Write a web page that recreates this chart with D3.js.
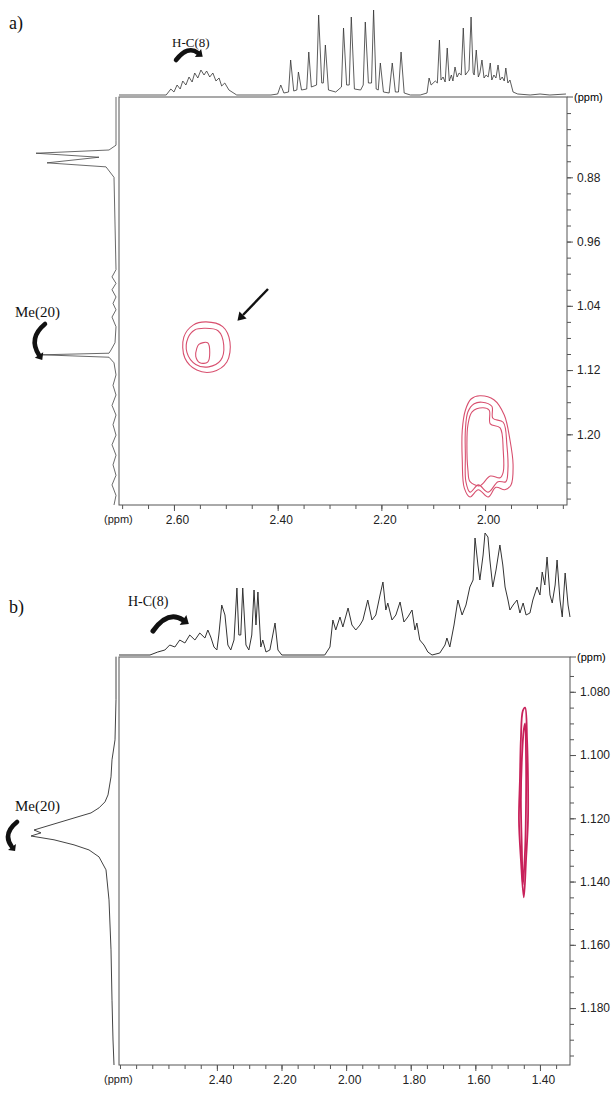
<!DOCTYPE html>
<html lang="en">
<head>
<meta charset="UTF-8">
<title>2D NMR spectra a) and b)</title>
<script src="https://d3js.org/d3.v7.min.js"></script>
<style>
  body { margin: 0; background: #fff; }
  .axis text { font-family: "Liberation Sans", Arial, sans-serif; font-size: 12px; fill: #222; }
  .axis line { stroke: #555; }
  .axis path { display: none; }
  .note { font-family: "Liberation Serif", "Times New Roman", serif; fill: #111; }
</style>
</head>
<body>
<div id="chart"></div>
<script>
// ---- panel a) : tick labels (ppm)
const aXLabels = [2.60, 2.40, 2.20, 2.00];
const aYLabels = [0.88, 0.96, 1.04, 1.12, 1.20];

// 1D projection on top of panel a) : [ppm, intensity]
const aTopSpectrum = [
  [2.706, 0], [2.615, 0], [2.606, 6], [2.600, 3], [2.594, 10], [2.588, 6], [2.583, 14], [2.577, 10],
  [2.571, 18], [2.565, 13], [2.560, 22], [2.554, 17], [2.548, 25], [2.542, 20], [2.537, 24], [2.531, 18],
  [2.525, 22], [2.519, 14], [2.513, 17], [2.508, 9], [2.502, 12], [2.494, 5], [2.488, 3], [2.479, 0],
  [2.413, 0], [2.400, 1], [2.394, 10], [2.388, 2], [2.379, 3], [2.375, 35], [2.369, 4], [2.363, 5],
  [2.360, 23], [2.354, 5], [2.344, 6], [2.340, 43], [2.335, 8], [2.325, 10], [2.321, 80], [2.315, 12],
  [2.312, 12], [2.308, 50], [2.302, 5], [2.288, 3], [2.277, 8], [2.273, 67], [2.267, 10], [2.262, 10],
  [2.258, 78], [2.252, 6], [2.240, 5], [2.235, 10], [2.231, 73], [2.225, 12], [2.219, 12], [2.215, 85],
  [2.210, 6], [2.206, 5], [2.202, 32], [2.196, 3], [2.185, 2], [2.179, 32], [2.173, 3], [2.167, 3],
  [2.162, 43], [2.156, 2], [2.144, 0],
  [2.125, 0], [2.112, 2], [2.108, 17], [2.104, 10], [2.096, 14], [2.092, 12], [2.088, 55], [2.085, 15],
  [2.081, 18], [2.077, 13], [2.073, 47], [2.069, 14], [2.065, 20], [2.062, 14], [2.058, 28], [2.054, 18],
  [2.050, 22], [2.046, 20], [2.042, 67], [2.038, 20], [2.035, 22], [2.031, 25], [2.027, 78], [2.023, 22],
  [2.021, 20], [2.017, 45], [2.013, 18], [2.010, 22], [2.006, 35], [2.002, 17], [1.998, 20], [1.994, 18],
  [1.990, 32], [1.987, 15], [1.983, 20], [1.979, 17], [1.975, 30], [1.971, 15], [1.967, 18], [1.963, 14],
  [1.960, 27], [1.956, 12], [1.952, 15], [1.946, 3], [1.937, 1], [1.913, 0], [1.894, 1], [1.875, 0],
  [1.844, 1]
];

// 1D projection on the left of panel a) : [ppm, intensity]
const aLeftSpectrum = [
  [0.780, 0], [0.834, 0], [0.840, 0], [0.846, 7], [0.850, 80], [0.855, 17], [0.862, 69], [0.867, 10],
  [0.880, 2], [0.995, 0], [1.004, 4], [1.012, 0], [1.020, 4], [1.029, 0], [1.037, 3], [1.045, 0],
  [1.054, 4], [1.066, 0], [1.086, 1], [1.095, 5], [1.099, 7], [1.101, 74], [1.104, 7], [1.111, 2],
  [1.126, 0], [1.139, 3], [1.151, 0], [1.164, 4], [1.176, 0], [1.188, 3], [1.201, 0], [1.213, 4],
  [1.226, 0], [1.238, 3], [1.251, 0], [1.263, 4], [1.276, 0], [1.288, 2]
];

// contour levels of panel a) : [ppm F2, ppm F1]
const aContours = [
  [[2.538, 1.060], [2.506, 1.066], [2.492, 1.085], [2.498, 1.110], [2.525, 1.122], [2.556, 1.120],
   [2.579, 1.105], [2.581, 1.079], [2.563, 1.064]],
  [[2.542, 1.068], [2.515, 1.071], [2.504, 1.089], [2.510, 1.108], [2.533, 1.116], [2.558, 1.113],
   [2.575, 1.098], [2.573, 1.080], [2.560, 1.070]],
  [[2.552, 1.088], [2.535, 1.086], [2.531, 1.098], [2.535, 1.110], [2.550, 1.111], [2.558, 1.103],
   [2.556, 1.093]],
  [[2.010, 1.152], [1.983, 1.157], [1.963, 1.176], [1.952, 1.207], [1.946, 1.238], [1.950, 1.263],
   [1.962, 1.269], [1.979, 1.266], [1.994, 1.278], [2.013, 1.269], [2.029, 1.278], [2.040, 1.267],
   [2.044, 1.232], [2.044, 1.195], [2.038, 1.170], [2.027, 1.156]],
  [[2.006, 1.160], [1.987, 1.165], [1.985, 1.180], [1.965, 1.185], [1.958, 1.213], [1.956, 1.245],
   [1.960, 1.259], [1.975, 1.259], [1.994, 1.272], [2.013, 1.263], [2.029, 1.272], [2.037, 1.259],
   [2.038, 1.226], [2.038, 1.195], [2.033, 1.172], [2.021, 1.162]],
  [[2.004, 1.167], [1.992, 1.170], [1.990, 1.187], [1.971, 1.192], [1.965, 1.220], [1.965, 1.247],
   [1.971, 1.254], [1.990, 1.252], [2.010, 1.264], [2.029, 1.259], [2.033, 1.245], [2.035, 1.213],
   [2.033, 1.188], [2.025, 1.172]]
];

// ---- panel b)
const bXLabels = [2.40, 2.20, 2.00, 1.80, 1.60, 1.40];
const bYLabels = [1.080, 1.100, 1.120, 1.140, 1.160, 1.180];

const bTopSpectrum = [
  [2.703, 0], [2.607, 0], [2.583, 3], [2.561, 5], [2.546, 10], [2.530, 8], [2.515, 15], [2.499, 12],
  [2.484, 20], [2.468, 15], [2.453, 22], [2.437, 17], [2.428, 25], [2.419, 18], [2.409, 8], [2.400, 5],
  [2.394, 20], [2.385, 50], [2.375, 40], [2.366, 10], [2.357, 5], [2.347, 15], [2.338, 67], [2.332, 20],
  [2.326, 20], [2.320, 67], [2.310, 10], [2.301, 5], [2.292, 20], [2.285, 65], [2.279, 30], [2.273, 63],
  [2.264, 8], [2.258, 15], [2.248, 3], [2.236, 5], [2.227, 20], [2.220, 32], [2.211, 5], [2.199, 0],
  [2.066, 0], [2.050, 8], [2.041, 35], [2.032, 25], [2.019, 38], [2.010, 28], [1.994, 47], [1.982, 30],
  [1.970, 25], [1.957, 30], [1.948, 35], [1.933, 55], [1.920, 35], [1.908, 40], [1.895, 60], [1.886, 73],
  [1.877, 45], [1.871, 52], [1.858, 35], [1.846, 40], [1.833, 53], [1.821, 33], [1.809, 38], [1.796, 45],
  [1.787, 25], [1.781, 32], [1.772, 15], [1.759, 10], [1.747, 3], [1.734, 0], [1.710, 2], [1.694, 10],
  [1.688, 17], [1.679, 8], [1.666, 30], [1.654, 55], [1.641, 40], [1.629, 50], [1.617, 68], [1.607, 75],
  [1.601, 117], [1.592, 90], [1.586, 75], [1.576, 100], [1.570, 122], [1.561, 118], [1.555, 95], [1.546, 68],
  [1.536, 85], [1.524, 110], [1.515, 90], [1.508, 68], [1.499, 55], [1.493, 45], [1.483, 50], [1.471, 55],
  [1.462, 42], [1.452, 52], [1.443, 40], [1.431, 42], [1.422, 55], [1.409, 68], [1.400, 60], [1.393, 83],
  [1.385, 70], [1.378, 98], [1.369, 60], [1.362, 52], [1.353, 70], [1.347, 95], [1.338, 55], [1.331, 38],
  [1.322, 82], [1.313, 50], [1.307, 38]
];

const bLeftSpectrum = [
  [1.0689, 0], [1.0825, 0], [1.0952, 1], [1.1015, 4], [1.1069, 5], [1.1126, 8], [1.1148, 11], [1.1167, 17],
  [1.1183, 25], [1.1199, 42], [1.1218, 62], [1.1237, 82], [1.1246, 75], [1.1256, 85], [1.1268, 62],
  [1.1284, 42], [1.1300, 27], [1.1322, 17], [1.1363, 10], [1.1458, 7], [1.1616, 5], [1.1775, 4],
  [1.1901, 3], [1.1980, 2]
];

const bContours = [
  [[1.446, 1.085], [1.440, 1.095], [1.437, 1.108], [1.437, 1.1205], [1.443, 1.133], [1.450, 1.145],
   [1.459, 1.133], [1.465, 1.1205], [1.462, 1.108], [1.459, 1.095], [1.453, 1.086]],
  [[1.446, 1.090], [1.443, 1.1015], [1.443, 1.114], [1.446, 1.130], [1.453, 1.141], [1.456, 1.130],
   [1.459, 1.114], [1.456, 1.1015], [1.450, 1.092]]
];

const panels = [
  {
    frame: { l: 119, t: 97, r: 567, b: 505 },
    xDomain: [2.706, 1.842], yDomain: [0.780, 1.288],
    xLabels: aXLabels, yLabels: aYLabels,
    xMinor: d3.range(2.70, 1.84, -0.05), yMinor: d3.range(0.80, 1.29, 0.02),
    yFmt: d3.format(".2f"),
    top: aTopSpectrum, topMax: 85, topH: 85,
    left: aLeftSpectrum, leftMax: 85, leftW: 85,
    contours: aContours, contourColor: "#d8506f", contourWidth: 1.1, specWidth: 0.8
  },
  {
    frame: { l: 119, t: 657, r: 570, b: 1065 },
    xDomain: [2.703, 1.307], yDomain: [1.069, 1.198],
    xLabels: bXLabels, yLabels: bYLabels,
    xMinor: d3.range(2.70, 1.31, -0.05), yMinor: d3.range(1.075, 1.198, 0.005),
    yFmt: d3.format(".3f"),
    top: bTopSpectrum, topMax: 125, topH: 125,
    left: bLeftSpectrum, leftMax: 85, leftW: 85,
    contours: bContours, contourColor: "#c8215a", contourWidth: 1.8, specWidth: 1
  }
];

const svg = d3.select("#chart").append("svg")
  .attr("width", 615).attr("height", 1093);

function drawPanel(p) {
  const f = p.frame;
  const x = d3.scaleLinear().domain(p.xDomain).range([f.l, f.r]);
  const y = d3.scaleLinear().domain(p.yDomain).range([f.t, f.b]);
  const g = svg.append("g");

  g.append("rect")
    .attr("x", f.l).attr("y", f.t)
    .attr("width", f.r - f.l).attr("height", f.b - f.t)
    .attr("fill", "none").attr("stroke", "#555").attr("stroke-width", 1);

  // bottom axis
  g.append("g").attr("class", "axis")
    .attr("transform", `translate(0,${f.b})`)
    .call(d3.axisBottom(x).tickValues(p.xMinor).tickSize(4).tickFormat(""));
  g.append("g").attr("class", "axis")
    .attr("transform", `translate(0,${f.b})`)
    .call(d3.axisBottom(x).tickValues(p.xLabels).tickSize(6).tickPadding(4).tickFormat(d3.format(".2f")))
    .selectAll("text").attr("dx", 3);

  // right axis
  g.append("g").attr("class", "axis")
    .attr("transform", `translate(${f.r},0)`)
    .call(d3.axisRight(y).tickValues(p.yMinor).tickSize(4).tickFormat(""));
  g.append("g").attr("class", "axis")
    .attr("transform", `translate(${f.r},0)`)
    .call(d3.axisRight(y).tickValues(p.yLabels).tickSize(6).tickPadding(4).tickFormat(p.yFmt));

  // (ppm) labels
  g.append("line").attr("x1", f.r).attr("x2", f.r + 6).attr("y1", f.t).attr("y2", f.t)
    .attr("stroke", "#555");
  g.append("text").attr("class", "axis")
    .attr("x", f.r + 7).attr("y", f.t + 4)
    .style("font-family", "Liberation Sans, Arial, sans-serif").style("font-size", "11px")
    .text("(ppm)");
  g.append("text")
    .attr("x", f.l - 15).attr("y", f.b + 18)
    .style("font-family", "Liberation Sans, Arial, sans-serif").style("font-size", "11px")
    .attr("fill", "#222")
    .text("(ppm)");

  // top projection
  const yTop = d3.scaleLinear().domain([0, p.topMax]).range([f.t - 2, f.t - 2 - p.topH]);
  g.append("path")
    .datum(p.top)
    .attr("fill", "none").attr("stroke", "#333").attr("stroke-width", p.specWidth)
    .attr("stroke-linejoin", "round")
    .attr("d", d3.line().x(d => x(d[0])).y(d => yTop(d[1])));

  // left projection
  const xLeft = d3.scaleLinear().domain([0, p.leftMax]).range([f.l - 3, f.l - 3 - p.leftW]);
  g.append("path")
    .datum(p.left)
    .attr("fill", "none").attr("stroke", "#444").attr("stroke-width", p.specWidth)
    .attr("stroke-linejoin", "round")
    .attr("d", d3.line().x(d => xLeft(d[1])).y(d => y(d[0])));

  // contours
  const contourLine = d3.line().x(d => x(d[0])).y(d => y(d[1])).curve(d3.curveCatmullRomClosed.alpha(0.5));
  g.selectAll(".contour")
    .data(p.contours)
    .enter().append("path")
    .attr("class", "contour")
    .attr("fill", "none")
    .attr("stroke", p.contourColor)
    .attr("stroke-width", p.contourWidth)
    .attr("d", contourLine);

  return { x, y };
}

panels.forEach(drawPanel);

// ---- annotations
function arrowHead(x0, y0, x1, y1, len, half) {
  const dx = x1 - x0, dy = y1 - y0;
  const n = Math.hypot(dx, dy);
  const ux = dx / n, uy = dy / n;
  const tip = [x1 + ux * len, y1 + uy * len];
  const a = [x1 - uy * half, y1 + ux * half];
  const b = [x1 + uy * half, y1 - ux * half];
  svg.append("polygon")
    .attr("points", [tip, a, b].map(q => q.join(",")).join(" "))
    .attr("fill", "#111");
}

function curvedArrow(x0, y0, cx, cy, x1, y1, w, len, half) {
  svg.append("path")
    .attr("d", `M${x0},${y0} Q${cx},${cy} ${x1},${y1}`)
    .attr("fill", "none").attr("stroke", "#111")
    .attr("stroke-width", w).attr("stroke-linecap", "round");
  arrowHead(cx, cy, x1, y1, len, half);
}

svg.append("text").attr("class", "note").attr("x", 9).attr("y", 29)
  .style("font-size", "18px").text("a)");
svg.append("text").attr("class", "note").attr("x", 9).attr("y", 613)
  .style("font-size", "18px").text("b)");

svg.append("text").attr("class", "note").attr("x", 172).attr("y", 47)
  .style("font-size", "13px").text("H-C(8)");
curvedArrow(176, 60, 188, 45, 198, 53, 4.5, 6, 5);

svg.append("text").attr("class", "note").attr("x", 15).attr("y", 317)
  .style("font-size", "15px").text("Me(20)");
curvedArrow(45, 324, 28, 338, 39, 355, 4.5, 6, 5);

svg.append("text").attr("class", "note").attr("x", 128).attr("y", 606)
  .style("font-size", "14px").text("H-C(8)");
curvedArrow(153, 631, 168, 610, 183, 620, 5, 7, 6);

svg.append("text").attr("class", "note").attr("x", 15).attr("y", 811)
  .style("font-size", "15px").text("Me(20)");
curvedArrow(17, 822, 2, 834, 12, 847, 4.5, 5, 5);

// arrow pointing at the H-C(8)/Me(20) cross peak
svg.append("line")
  .attr("x1", 268).attr("y1", 289).attr("x2", 243).attr("y2", 315)
  .attr("stroke", "#111").attr("stroke-width", 2.4);
arrowHead(268, 289, 243, 315, 8, 5);
</script>
</body>
</html>
